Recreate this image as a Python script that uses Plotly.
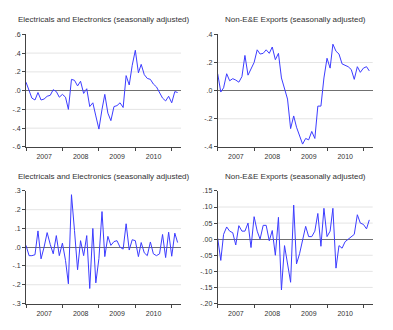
import pandas as pd
import plotly.graph_objects as go

months = pd.date_range("2007-01-01", periods=51, freq="MS").strftime("%Y-%m-%d").tolist()

titles = ["Electricals and Electronics (seasonally adjusted)",
          "Non-E&E Exports (seasonally adjusted)",
          "Electricals and Electronics (seasonally adjusted)",
          "Non-E&E Exports (seasonally adjusted)"]

ee_level = [0.09, 0.01, -0.08, -0.10, -0.02, -0.10, -0.09, -0.06, -0.05, 0.01,
            -0.01, -0.07, -0.04, -0.07, -0.20, 0.12, 0.11, 0.05, 0.10, -0.03,
            0.02, -0.17, -0.13, -0.27, -0.41, -0.20, -0.04, -0.24, -0.32, -0.17,
            -0.16, -0.13, -0.18, 0.16, 0.06, 0.27, 0.43, 0.19, 0.28, 0.17,
            0.13, 0.12, 0.07, 0.04, -0.02, -0.08, -0.11, -0.06, -0.13, -0.01, -0.02]

ne_level = [0.12, -0.01, 0.02, 0.12, 0.07, 0.085, 0.075, 0.06, 0.10, 0.25,
            0.11, 0.15, 0.20, 0.29, 0.26, 0.265, 0.29, 0.265, 0.31, 0.22,
            0.265, 0.09, 0.02, -0.06, -0.27, -0.18, -0.26, -0.33, -0.38, -0.34,
            -0.35, -0.29, -0.34, -0.11, -0.11, 0.09, 0.23, 0.16, 0.33, 0.28,
            0.26, 0.19, 0.18, 0.17, 0.15, 0.08, 0.17, 0.13, 0.16, 0.17, 0.14]

ee_growth = [0.01, -0.045, -0.045, -0.04, 0.087, -0.062, 0.0, 0.078, 0.015, -0.035,
             0.062, -0.045, 0.022, -0.07, -0.195, 0.28, 0.09, -0.12, 0.035, -0.045,
             0.062, -0.22, 0.10, -0.19, -0.06, 0.19, -0.05, 0.058, 0.01, 0.03,
             0.035, 0.0, -0.01, 0.125, -0.015, 0.04, 0.035, -0.05, 0.025, -0.03,
             -0.045, 0.028, -0.035, -0.045, -0.035, 0.068, -0.055, 0.08, -0.048, 0.075, 0.025]

ne_growth = [0.003, -0.066, 0.015, 0.038, 0.025, 0.02, -0.018, 0.042, 0.025, 0.025,
             0.05, -0.026, 0.07, 0.025, 0.0, 0.043, 0.043, -0.005, 0.027, -0.05,
             0.068, -0.158, -0.02, -0.08, -0.134, 0.106, -0.077, -0.045, 0.0, 0.04,
             0.008, 0.008, 0.025, 0.08, -0.022, 0.096, 0.008, 0.025, 0.096, -0.09,
             -0.02, -0.028, -0.008, 0.0, 0.007, 0.015, 0.076, 0.05, 0.046, 0.032, 0.06]

ytick_vals = [
    [-0.6, -0.4, -0.2, 0.0, 0.2, 0.4, 0.6],
    [-0.4, -0.2, 0.0, 0.2, 0.4],
    [-0.3, -0.2, -0.1, 0.0, 0.1, 0.2, 0.3],
    [-0.20, -0.15, -0.10, -0.05, 0.0, 0.05, 0.10, 0.15],
]
ytick_text = [
    ["-.6", "-.4", "-.2", ".0", ".2", ".4", ".6"],
    ["-.4", "-.2", ".0", ".2", ".4"],
    ["-.3", "-.2", "-.1", ".0", ".1", ".2", ".3"],
    ["-.20", "-.15", "-.10", "-.05", ".00", ".05", ".10", ".15"],
]
series = [ee_level, ne_level, ee_growth, ne_growth]

W, H = 393, 330
boxes = [(26, 181, 31, 146), (217.7, 372.7, 31, 146),
         (26, 181, 191, 306), (217.7, 372.7, 191, 306)]

FONT = "Liberation Sans, Arial, sans-serif"
fig = go.Figure()
layout = dict(width=W, height=H, margin=dict(l=0, r=0, t=0, b=0),
              paper_bgcolor="white", plot_bgcolor="white", showlegend=False,
              font=dict(family=FONT, size=7, color="#333333"))
annotations = []
shapes = []
for k, (x0, x1, y0, y1) in enumerate(boxes):
    n = "" if k == 0 else str(k + 1)
    xa, ya = "xaxis" + n, "yaxis" + n
    xr, yr = "x" + n, "y" + n
    fig.add_trace(go.Scatter(x=months, y=series[k], mode="lines", xaxis=xr, yaxis=yr,
                             line=dict(color="#3c3cff", width=1), hoverinfo="skip"))
    layout[xa] = dict(domain=[x0 / W, x1 / W], anchor=yr, type="date",
                      range=["2007-01-01", "2011-04-04"],
                      tick0="2007-01-01", dtick="M12", tickformat="%Y",
                      ticklabelmode="period", ticks="outside", ticklen=3,
                      tickcolor="#444444", showline=True, linecolor="#444444",
                      linewidth=1, showgrid=False, zeroline=False,
                      tickfont=dict(size=7, color="#333333", family=FONT))
    yv = ytick_vals[k]
    layout[ya] = dict(domain=[1 - y1 / H, 1 - y0 / H], anchor=xr,
                      range=[yv[0], yv[-1]], tickvals=yv, ticktext=ytick_text[k],
                      ticks="outside", ticklen=3, tickcolor="#444444",
                      showline=True, linecolor="#444444", linewidth=1,
                      showgrid=False, zeroline=True, zerolinecolor="#707070",
                      zerolinewidth=1.3,
                      tickfont=dict(size=7, color="#333333", family=FONT))
    for v in yv[1:-1]:
        if v == 0:
            continue
        shapes.append(dict(type="line", xref=xr + " domain", yref=yr,
                           x0=0, x1=1, y0=v, y1=v, layer="below",
                           line=dict(color="#e4e4e4", width=1)))
    annotations.append(dict(text=titles[k], xref="paper", yref="paper",
                            x=(x0 + x1) / 2 / W, y=1 - (y0 - 15) / H,
                            xanchor="center", yanchor="middle", showarrow=False,
                            font=dict(size=8, color="#333333", family=FONT)))
layout["annotations"] = annotations
layout["shapes"] = shapes
fig.update_layout(**layout)
fig.write_html("out.html")
